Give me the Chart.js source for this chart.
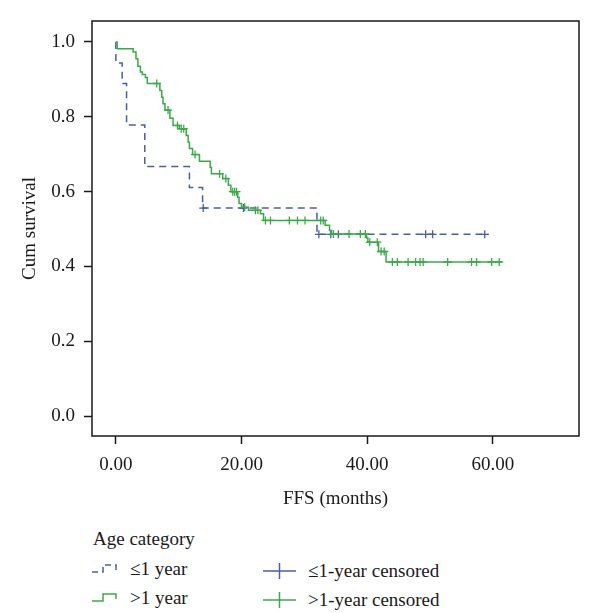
<!DOCTYPE html>
<html>
<head>
    <meta charset="utf-8">
    <title>Cum survival by age category</title>
    <script src="https://cdn.jsdelivr.net/npm/chart.js"></script>
    <style>
        body { margin: 0; background: #fff; font-family: "Liberation Serif", serif; color: #1a1a1a; }
        #page { position: relative; width: 600px; height: 613px; }
        #chart-box { position: absolute; left: 0; top: 0; width: 600px; height: 520px; }
        .lg { position: absolute; font-size: 19px; line-height: 22px; white-space: nowrap; }
        .sym { position: absolute; }
    </style>
</head>
<body>
<div id="page">
    <div id="chart-box"><canvas id="km"></canvas></div>

    <div class="lg" style="left:93px; top:528px;">Age category</div>

    <svg class="sym" style="left:92px; top:563px;" width="27" height="12">
        <polyline points="0,9 11,9 11,2 24,2 24,7" fill="none" stroke="#4a5da6" stroke-width="1.5" stroke-dasharray="6,4"/>
    </svg>
    <div class="lg" style="left:130px; top:558px;">≤1 year</div>

    <svg class="sym" style="left:92px; top:592px;" width="27" height="12">
        <polyline points="0,9 11,9 11,2 24,2 24,7" fill="none" stroke="#3aaa48" stroke-width="1.5"/>
    </svg>
    <div class="lg" style="left:130px; top:587px;">&gt;1 year</div>

    <svg class="sym" style="left:263px; top:562px;" width="34" height="18">
        <line x1="0" y1="9" x2="33" y2="9" stroke="#4a5da6" stroke-width="1.5"/>
        <line x1="16.5" y1="1" x2="16.5" y2="17" stroke="#4a5da6" stroke-width="1.5"/>
    </svg>
    <div class="lg" style="left:308px; top:560px;">≤1-year censored</div>

    <svg class="sym" style="left:263px; top:591px;" width="34" height="18">
        <line x1="0" y1="9" x2="33" y2="9" stroke="#3aaa48" stroke-width="1.5"/>
        <line x1="16.5" y1="1" x2="16.5" y2="17" stroke="#3aaa48" stroke-width="1.5"/>
    </svg>
    <div class="lg" style="left:308px; top:589px;">&gt;1-year censored</div>
</div>

<script>
    // axis ticks
    var xTicks = [0, 20, 40, 60];
    var yTicks = [0, 0.2, 0.4, 0.6, 0.8, 1.0];

    // <=1 year: survival after each event time
    var le1Time = [0, 0, 1.0, 1.7, 4.6, 11.7, 13.8, 32.0, 59.3];
    var le1Surv = [1.0, 0.944, 0.889, 0.778, 0.667, 0.611, 0.556, 0.486, 0.486];
    var le1Censor = [13.9, 20.3, 32.3, 34.2, 35.4, 49.3, 50.4, 58.7];

    // >1 year
    var gt1Time = [0, 0.2, 2.75, 3.2, 3.5, 3.9, 4.2, 4.7, 5.0, 7.0, 7.3, 7.5, 7.8, 8.6, 9.1, 10.1,
        11.2, 11.5, 11.7, 12.2, 13.3, 15.0, 15.2, 17.0, 17.9, 18.3, 19.4, 19.6, 20.0, 21.1, 23.0,
        23.5, 33.3, 34.0, 34.3, 39.9, 40.1, 41.8, 43.0, 61.4];
    var gt1Surv = [1.0, 0.982, 0.973, 0.955, 0.935, 0.920, 0.913, 0.905, 0.889, 0.870, 0.852, 0.835,
        0.818, 0.796, 0.777, 0.768, 0.750, 0.732, 0.715, 0.699, 0.681, 0.665, 0.648, 0.635, 0.617,
        0.600, 0.585, 0.568, 0.558, 0.550, 0.541, 0.523, 0.510, 0.496, 0.487, 0.476, 0.465, 0.440,
        0.412, 0.412];
    var gt1Censor = [6.5, 8.3, 9.8, 10.4, 10.8, 12.6, 16.5, 17.5, 18.6, 18.9, 19.2, 20.5, 22.2, 22.6,
        23.8, 24.6, 27.6, 28.9, 30.1, 32.6, 33.0, 34.6, 37.1, 38.9, 39.7, 40.4, 41.6, 42.2, 42.7,
        44.0, 44.8, 46.5, 47.7, 48.4, 48.9, 52.8, 56.6, 57.4, 59.8, 61.0];

    var blue = '#4a5da6';
    var green = '#3aaa48';

    function toPoints(times, surv) {
        return times.map(function (t, i) { return {x: t, y: surv[i]}; });
    }

    // survival value of the step curve at time t
    function survAt(times, surv, t) {
        var s = surv[0];
        for (var i = 0; i < times.length; i++) {
            if (times[i] <= t) s = surv[i];
        }
        return s;
    }

    function censorPoints(ct, times, surv) {
        return ct.map(function (t) { return {x: t, y: survAt(times, surv, t)}; });
    }

    // black frame round the plot area
    var frame = {
        id: 'frame',
        afterDraw: function (chart) {
            var a = chart.chartArea, c = chart.ctx;
            c.save();
            c.strokeStyle = '#1a1a1a';
            c.lineWidth = 1.5;
            c.strokeRect(a.left, a.top, a.right - a.left, a.bottom - a.top);
            c.restore();
        }
    };

    var tickFont = {family: 'Liberation Serif', size: 19};
    var titleFont = {family: 'Liberation Serif', size: 19};

    new Chart(document.getElementById('km'), {
        type: 'scatter',
        data: {
            datasets: [{
                label: '>1 year',
                data: toPoints(gt1Time, gt1Surv),
                showLine: true,
                stepped: 'before',
                borderColor: green,
                borderWidth: 1.5,
                pointRadius: 0
            }, {
                label: '>1-year censored',
                data: censorPoints(gt1Censor, gt1Time, gt1Surv),
                pointStyle: 'cross',
                pointRadius: 4,
                borderWidth: 1.3,
                borderColor: green
            }, {
                label: '≤1 year',
                data: toPoints(le1Time, le1Surv),
                showLine: true,
                stepped: 'before',
                borderColor: blue,
                borderWidth: 1.5,
                borderDash: [7, 5],
                pointRadius: 0
            }, {
                label: '≤1-year censored',
                data: censorPoints(le1Censor, le1Time, le1Surv),
                pointStyle: 'cross',
                pointRadius: 4,
                borderWidth: 1.3,
                borderColor: blue
            }]
        },
        options: {
            responsive: true,
            maintainAspectRatio: false,
            animation: false,
            layout: {padding: {left: 0, top: 21, right: 21, bottom: 0}},
            plugins: {
                legend: {display: false},
                tooltip: {enabled: false}
            },
            scales: {
                x: {
                    type: 'linear',
                    min: -3.8,
                    max: 73.7,
                    afterBuildTicks: function (s) { s.ticks = xTicks.map(function (v) { return {value: v}; }); },
                    afterFit: function (s) { s.height = 84; },
                    grid: {display: true, drawOnChartArea: false, drawTicks: true, tickLength: 8, tickColor: '#1a1a1a', tickWidth: 1.5},
                    border: {display: false},
                    ticks: {
                        color: '#1a1a1a', font: tickFont, padding: 10, maxRotation: 0,
                        callback: function (v) { return v.toFixed(2); }
                    },
                    title: {display: true, text: 'FFS (months)', color: '#1a1a1a', font: titleFont, padding: {top: 0, bottom: 10}}
                },
                y: {
                    min: -0.053,
                    max: 1.056,
                    afterBuildTicks: function (s) { s.ticks = yTicks.map(function (v) { return {value: v}; }); },
                    afterFit: function (s) { s.width = 92; },
                    grid: {display: true, drawOnChartArea: false, drawTicks: true, tickLength: 8, tickColor: '#1a1a1a', tickWidth: 1.5},
                    border: {display: false},
                    ticks: {
                        color: '#1a1a1a', font: tickFont, padding: 9,
                        callback: function (v) { return v.toFixed(1); }
                    },
                    title: {display: true, text: 'Cum survival', color: '#1a1a1a', font: titleFont, padding: {top: 19, bottom: 0}}
                }
            }
        },
        plugins: [frame]
    });
</script>
</body>
</html>
